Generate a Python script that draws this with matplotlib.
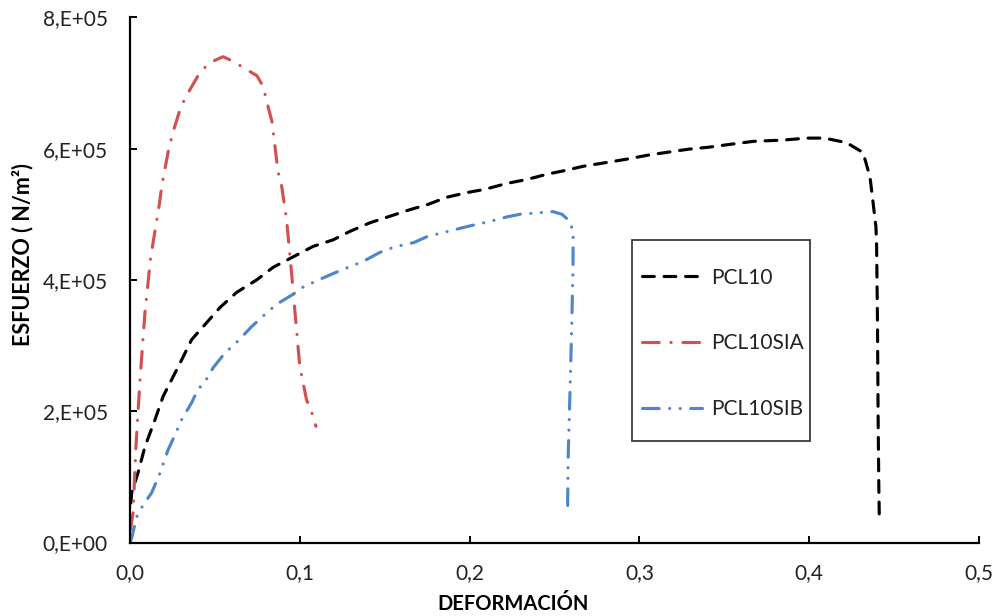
import numpy as np
import matplotlib
matplotlib.use("Agg")
import matplotlib.pyplot as plt
from matplotlib.ticker import FuncFormatter, MultipleLocator
from matplotlib.patches import Rectangle

plt.rcParams['font.family'] = ['Lato', 'DejaVu Sans']
plt.rcParams['lines.scale_dashes'] = False

# Stress-strain curves (strain, stress in N/m^2)
pcl10_strain = [0.0005, 0.001, 0.0047, 0.0088, 0.0147, 0.0194, 0.0245, 0.0304, 0.0363,
                0.0452, 0.053, 0.0628, 0.0746, 0.0842, 0.096, 0.1078, 0.1196, 0.1296,
                0.1413, 0.1649, 0.1755, 0.1867, 0.1985, 0.209, 0.222, 0.2338, 0.2456,
                0.255, 0.2668, 0.281, 0.2927, 0.305, 0.318, 0.3286, 0.3404, 0.352,
                0.367, 0.3846, 0.3987, 0.409, 0.422, 0.4317, 0.4358, 0.4376, 0.4393,
                0.4397, 0.4402, 0.4406, 0.441, 0.4413]
pcl10_stress = [0.60e5, 0.76e5, 1.06e5, 1.46e5, 1.87e5, 2.22e5, 2.48e5, 2.78e5, 3.09e5,
                3.35e5, 3.58e5, 3.81e5, 4.00e5, 4.19e5, 4.35e5, 4.51e5, 4.61e5, 4.74e5,
                4.87e5, 5.07e5, 5.15e5, 5.26e5, 5.33e5, 5.38e5, 5.47e5, 5.53e5, 5.61e5,
                5.66e5, 5.73e5, 5.79e5, 5.84e5, 5.90e5, 5.95e5, 5.99e5, 6.02e5, 6.06e5,
                6.11e5, 6.13e5, 6.16e5, 6.16e5, 6.09e5, 5.94e5, 5.57e5, 5.18e5, 4.81e5,
                4.51e5, 3.40e5, 1.87e5, 0.85e5, 0.37e5]

pcl10sia_strain = [0.0003, 0.0018, 0.0035, 0.0059, 0.0088, 0.0122, 0.0171, 0.019, 0.0224,
                   0.0253, 0.030, 0.0342, 0.0412, 0.047, 0.0548, 0.0607, 0.0689, 0.0748,
                   0.0783, 0.0813, 0.0836, 0.0854, 0.0872, 0.0893, 0.0922, 0.0952, 0.0972,
                   0.100, 0.104, 0.107, 0.1095]
pcl10sia_stress = [0.20e5, 0.45e5, 1.46e5, 2.48e5, 3.50e5, 4.35e5, 5.12e5, 5.48e5, 5.94e5,
                   6.25e5, 6.64e5, 6.85e5, 7.16e5, 7.31e5, 7.40e5, 7.33e5, 7.20e5, 7.11e5,
                   6.95e5, 6.64e5, 6.41e5, 6.03e5, 5.64e5, 5.43e5, 4.92e5, 4.09e5, 3.50e5,
                   2.68e5, 2.17e5, 1.98e5, 1.77e5]

pcl10sib_strain = [0.0, 0.001, 0.0039, 0.0077, 0.0128, 0.0177, 0.0224, 0.0265, 0.0304,
                   0.0363, 0.040, 0.0442, 0.0489, 0.056, 0.0628, 0.0717, 0.0784, 0.0864,
                   0.096, 0.1019, 0.1119, 0.1254, 0.1372, 0.1472, 0.1555, 0.1673, 0.175,
                   0.1843, 0.192, 0.2014, 0.212, 0.222, 0.2297, 0.2397, 0.2491, 0.2544,
                   0.2591, 0.261, 0.2609, 0.2601, 0.2591, 0.258, 0.2577]
pcl10sib_stress = [0.0, 0.07e5, 0.39e5, 0.57e5, 0.76e5, 1.06e5, 1.41e5, 1.64e5, 1.87e5,
                   2.13e5, 2.33e5, 2.45e5, 2.66e5, 2.89e5, 3.05e5, 3.29e5, 3.45e5, 3.63e5,
                   3.78e5, 3.89e5, 4.01e5, 4.16e5, 4.28e5, 4.42e5, 4.50e5, 4.57e5, 4.66e5,
                   4.72e5, 4.77e5, 4.83e5, 4.89e5, 4.96e5, 5.00e5, 5.02e5, 5.04e5, 5.00e5,
                   4.89e5, 4.72e5, 4.20e5, 3.25e5, 2.28e5, 1.26e5, 0.45e5]

series_labels = ["PCL10", "PCL10SIA", "PCL10SIB"]
x_label = "DEFORMACIÓN"
y_label = "ESFUERZO ( N/m²)"

W, H = 1003, 616
fig = plt.figure(figsize=(W / 100, H / 100), dpi=100)
ax = fig.add_axes([130 / W, 1 - 542.5 / H, (979 - 130) / W, (542.5 - 17.3) / H])

lw = 2.25
ax.plot(pcl10_strain, pcl10_stress, color='black', lw=lw,
        dashes=(8.5, 7.0), dash_capstyle='round', label=series_labels[0])
ax.plot(pcl10sia_strain, pcl10sia_stress, color='#D0514F', lw=lw,
        dashes=(12.0, 8.5, 0.1, 8.5), dash_capstyle='round', label=series_labels[1])
ax.plot(pcl10sib_strain, pcl10sib_stress, color='#4E86CB', lw=lw,
        dashes=(12.0, 7.5, 0.1, 7.5, 0.1, 7.5), dash_capstyle='round', label=series_labels[2])

ax.set_xlim(0, 0.5)
ax.set_ylim(0, 8e5)
ax.xaxis.set_major_locator(MultipleLocator(0.1))
ax.yaxis.set_major_locator(MultipleLocator(2e5))


def fmt_x(v, pos):
    return f"{v:.1f}".replace('.', ',')


def fmt_y(v, pos):
    if abs(v) < 1e-9:
        return "0,E+00"
    e = int(np.floor(np.log10(abs(v))))
    m = v / 10 ** e
    return f"{m:.0f},E+{e:02d}"


ax.xaxis.set_major_formatter(FuncFormatter(fmt_x))
ax.yaxis.set_major_formatter(FuncFormatter(fmt_y))

for side in ('top', 'right'):
    ax.spines[side].set_visible(False)
for side in ('left', 'bottom'):
    ax.spines[side].set_linewidth(1.6)
    ax.spines[side].set_color('black')

ax.tick_params(direction='in', length=5, width=1.4, labelsize=15,
               colors='black', labelcolor='#222222')
ax.tick_params(axis='y', pad=16)
ax.tick_params(axis='x', pad=15)

fig.text(513 / W, 1 - 604 / H, x_label, ha='center', va='center',
         fontsize=14.5, fontweight='bold', color='black')
fig.text(23 / W, 1 - 255 / H, y_label, ha='center', va='center', rotation=90,
         fontsize=15.5, fontweight='bold', color='black')

leg = ax.legend(loc='center left', bbox_to_anchor=(642 / W, 1 - 343.5 / H),
                bbox_transform=fig.transFigure, frameon=False, fontsize=15,
                handlelength=2.9, handletextpad=0.4, labelspacing=2.2,
                borderpad=0, borderaxespad=0)
for t in leg.get_texts():
    t.set_color('#222222')

fig.patches.append(Rectangle((632 / W, 1 - 441 / H), 178 / W, 201 / H,
                             transform=fig.transFigure, fill=False,
                             edgecolor='#3a3a3a', lw=1.3))

fig.savefig("out.png", dpi=100)
